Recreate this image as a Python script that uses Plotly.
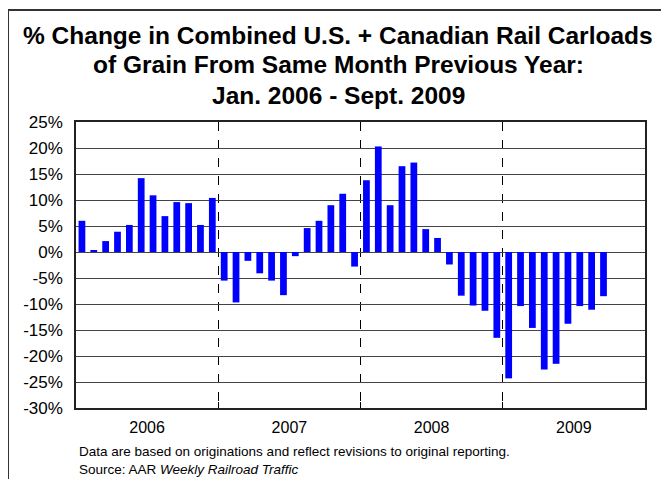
import plotly.graph_objects as go

years = ["2006", "2007", "2008", "2009"]
months = [f"{m} {y}" for y in years for m in
          ["Jan", "Feb", "Mar", "Apr", "May", "Jun", "Jul", "Aug", "Sep", "Oct", "Nov", "Dec"]]
pct_change = [
    6.0, 0.2, 2.1, 3.9, 5.2, 14.2, 10.9, 6.9, 9.6, 9.4, 5.2, 10.4,
    -5.5, -9.7, -1.7, -4.1, -5.5, -8.3, -0.8, 4.6, 6.0, 9.0, 11.2, -2.8,
    13.8, 20.3, 9.0, 16.5, 17.2, 4.4, 2.7, -2.4, -8.4, -10.3, -11.3, -16.5,
    -24.3, -10.4, -14.6, -22.6, -21.5, -13.8, -10.4, -11.1, -8.5,
]
y_ticks = list(range(-30, 30, 5))
title_lines = [
    "% Change in Combined U.S. + Canadian Rail Carloads",
    "of Grain From Same Month Previous Year:",
    "Jan. 2006 - Sept. 2009",
]

x_pos = list(range(len(pct_change)))
year_mid = [i * 12 + 5.5 for i in range(len(years))]
year_bounds = [i * 12 - 0.5 for i in range(1, len(years))]

# page has an 8px body margin, so the figure is sized/placed to compensate
W, H = 661, 471
L, R, T, B = 68, 24, 114, 71
PW, PH = W - L - R, H - T - B


def px(fx):
    return (fx - L) / PW


def py(fy):
    return (H - B - fy) / PH


fig = go.Figure()
fig.add_trace(go.Bar(x=x_pos, y=pct_change, marker_color="#0000FF",
                     marker_line_width=0, hovertext=months[:len(pct_change)]))

fig.update_layout(
    width=W, height=H,
    margin=dict(l=L, r=R, t=T, b=B),
    paper_bgcolor="white", plot_bgcolor="white",
    font=dict(family="Liberation Sans, Arial, sans-serif", color="black"),
    showlegend=False,
    bargap=0.43,
)

fig.update_xaxes(
    range=[-0.5, 47.5],
    tickvals=year_mid, ticktext=years, ticks="",
    tickfont=dict(size=16), ticklabelstandoff=4,
    showgrid=False, zeroline=False,
    showline=True, linecolor="#222", linewidth=1.5, mirror=True,
    minor=dict(tickvals=year_bounds, ticks="inside", ticklen=6, tickcolor="black",
               showgrid=True, gridcolor="black", griddash="dash", gridwidth=1),
)
fig.update_yaxes(
    range=[-30, 25],
    tickvals=y_ticks, ticktext=[f"{v}%" for v in y_ticks],
    tickfont=dict(size=17), ticklabelstandoff=8,
    showgrid=True, gridcolor="#444", gridwidth=1,
    zeroline=False,
    showline=True, linecolor="#222", linewidth=1.5, mirror=True,
)

for i, line in enumerate(title_lines):
    fig.add_annotation(
        text=f"<b>{line}</b>", xref="paper", yref="paper",
        x=px(330), y=py(27 + 30 * i), xanchor="center", yanchor="middle",
        showarrow=False, font=dict(size=24.5, color="black"),
    )

notes = [
    "Data are based on originations and reflect revisions to original reporting.",
    "Source: AAR <i>Weekly Railroad Traffic</i>",
]
for i, line in enumerate(notes):
    fig.add_annotation(
        text=line, xref="paper", yref="paper",
        x=px(69), y=py(443 + 18 * i), xanchor="left", yanchor="middle",
        align="left", showarrow=False, font=dict(size=13.5, color="black"),
    )

# border around the whole graphic
fig.add_shape(type="rect", xref="paper", yref="paper",
              x0=px(0), x1=px(659), y0=py(476), y1=py(2),
              line=dict(color="#333", width=2), fillcolor="rgba(0,0,0,0)")

fig.write_html("out.html")
